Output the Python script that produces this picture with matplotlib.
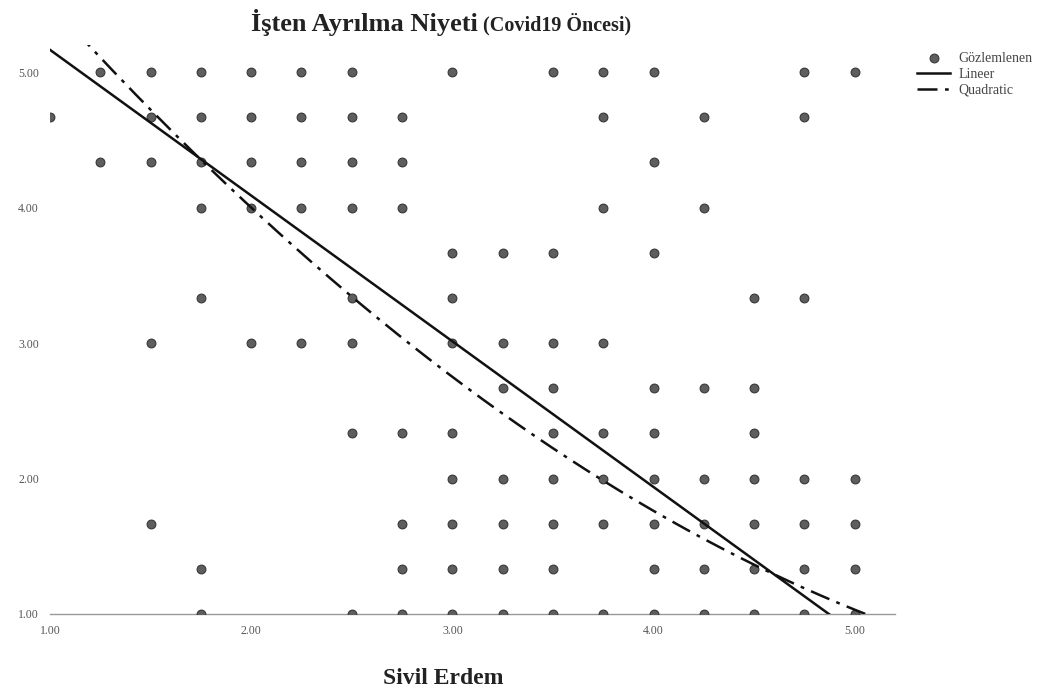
import numpy as np
import matplotlib.pyplot as plt

# observed points, one list of x values per y level
y_levels = [5.0, 4.667, 4.333, 4.0, 3.667, 3.333, 3.0, 2.667, 2.333, 2.0, 1.667, 1.333, 1.0]
x_rows = [
    [1.25, 1.5, 1.75, 2.0, 2.25, 2.5, 3.0, 3.5, 3.75, 4.0, 4.75, 5.0],
    [1.0, 1.5, 1.75, 2.0, 2.25, 2.5, 2.75, 3.75, 4.25, 4.75],
    [1.25, 1.5, 1.75, 2.0, 2.25, 2.5, 2.75, 4.0],
    [1.75, 2.0, 2.25, 2.5, 2.75, 3.75, 4.25],
    [3.0, 3.25, 3.5, 4.0],
    [1.75, 2.5, 3.0, 4.5, 4.75],
    [1.5, 2.0, 2.25, 2.5, 3.0, 3.25, 3.5, 3.75],
    [3.25, 3.5, 4.0, 4.25, 4.5],
    [2.5, 2.75, 3.0, 3.5, 3.75, 4.0, 4.5],
    [3.0, 3.25, 3.5, 3.75, 4.0, 4.25, 4.5, 4.75, 5.0],
    [1.5, 2.75, 3.0, 3.25, 3.5, 3.75, 4.0, 4.25, 4.5, 4.75, 5.0],
    [1.75, 2.75, 3.0, 3.25, 3.5, 4.0, 4.25, 4.5, 4.75, 5.0],
    [1.75, 2.5, 2.75, 3.0, 3.25, 3.5, 3.75, 4.0, 4.25, 4.5, 4.75, 5.0],
]

# fitted curves
lin_coef = [-1.0757, 6.24]
quad_coef = [0.13, -1.8995, 7.279]

xs = np.concatenate([np.array(r) for r in x_rows])
ys = np.concatenate([np.full(len(r), y) for r, y in zip(x_rows, y_levels)])

fig = plt.figure(figsize=(10.59, 6.95), dpi=100)
ax = fig.add_axes([50/1059, 1-614/695, 845/1059, 569/695])

serif = ['Liberation Serif', 'DejaVu Serif']

ax.scatter(xs, ys, s=40, color='#5e5e5e', edgecolor='#383838', linewidth=0.8,
           zorder=3, label='Gözlemlenen')

xf = np.linspace(1.0, 5.2, 200)
ax.plot(xf, np.polyval(lin_coef, xf), color='#111111', lw=1.8, label='Lineer', zorder=4)
ax.plot(xf, np.polyval(quad_coef, xf), color='#111111', lw=1.8,
        dashes=(8, 3, 1.5, 3), label='Quadratic', zorder=4)

ax.set_xlim(1.0, 5.2)
ax.set_ylim(1.0, 5.2)
ax.set_xticks([1, 2, 3, 4, 5])
ax.set_yticks([1, 2, 3, 4, 5])
ax.set_xticklabels(['1.00', '2.00', '3.00', '4.00', '5.00'])
ax.set_yticklabels(['1.00', '2.00', '3.00', '4.00', '5.00'])
ax.tick_params(length=0, labelsize=8.5, colors='#555555', pad=8)
for lab in ax.get_xticklabels() + ax.get_yticklabels():
    lab.set_family(serif)

for s in ['top', 'right', 'left']:
    ax.spines[s].set_visible(False)
ax.spines['bottom'].set_color('#999999')
ax.spines['bottom'].set_linewidth(1.0)

fig.text(478/1059, 1-22/695, 'İşten Ayrılma Niyeti', ha='right', va='center',
         fontsize=19, fontweight='bold', family=serif, color='#222222')
fig.text(483/1059, 1-24/695, '(Covid19 Öncesi)', ha='left', va='center',
         fontsize=14.5, fontweight='bold', family=serif, color='#222222')
fig.text(443/1059, 1-678/695, 'Sivil Erdem', ha='center', va='center',
         fontsize=17, fontweight='bold', family=serif, color='#222222')

leg = ax.legend(loc='upper left', bbox_to_anchor=(910/1059, 1-45/695),
                bbox_transform=fig.transFigure, frameon=False,
                prop={'family': serif, 'size': 10}, handlelength=2.4,
                labelspacing=0.2, handletextpad=0.6, borderpad=0)
for t in leg.get_texts():
    t.set_color('#444444')

fig.savefig('out.png', dpi=100)
